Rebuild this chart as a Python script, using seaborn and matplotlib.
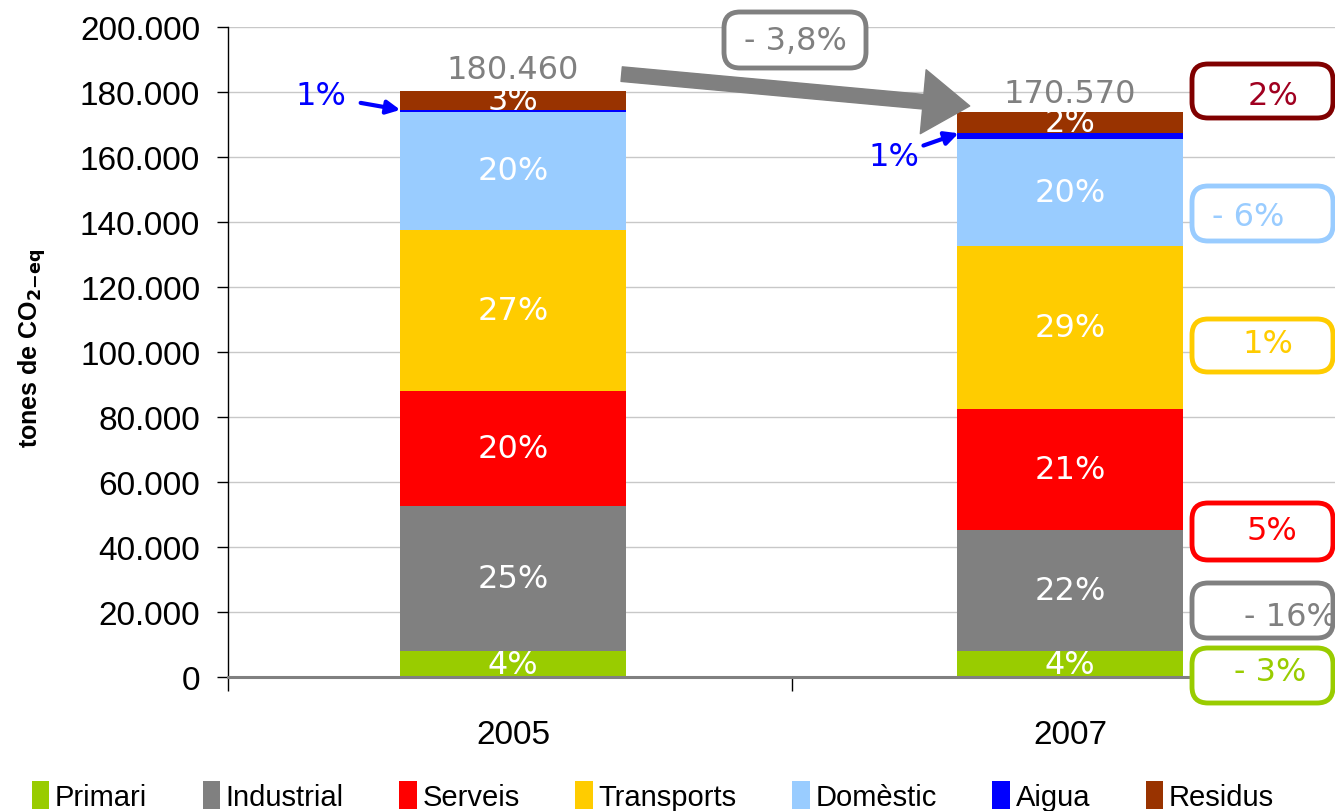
# Emissions by sector, 2005 vs 2007 (stacked bars)

import numpy as np
import pandas as pd
import matplotlib.pyplot as plt
import matplotlib.transforms as mtransforms
from matplotlib import font_manager
from matplotlib.patches import FancyBboxPatch, Patch
from matplotlib.ticker import FuncFormatter
import seaborn as sns

# Data
years = ["2005", "2007"]
sectors = ["Primari", "Industrial", "Serveis", "Transports", "Domèstic", "Aigua", "Residus"]
colors = ["#99CC00", "#808080", "#FF0000", "#FFCC00", "#99CCFF", "#0000FF", "#993300"]
values_2005 = [8000, 44700, 35400, 49500, 36300, 600, 5960]
values_2007 = [8000, 37200, 37300, 50200, 32700, 1900, 6400]
pct_2005 = ["4%", "25%", "20%", "27%", "20%", "", "3%"]
pct_2007 = ["4%", "22%", "21%", "29%", "20%", "", "2%"]
aigua_pct = ["1%", "1%"]
totals = ["180.460", "170.570"]
total_change = "- 3,8%"

# change 2005 -> 2007 per sector, with box colours
change_labels = ["2%", "- 6%", "1%", "5%", "- 16%", "- 3%"]
change_edge = ["#800000", "#99CCFF", "#FFCC00", "#FF0000", "#808080", "#99CC00"]
change_text = ["#A00020", "#99CCFF", "#FFCC00", "#FF0000", "#808080", "#99CC00"]

df = pd.DataFrame({
    "year": np.repeat(years, len(sectors)),
    "sector": sectors * 2,
    "value": values_2005 + values_2007,
})
df["cum"] = df.groupby("year")["value"].cumsum()
df["mid"] = df["cum"] - df["value"] / 2
df["pct"] = pct_2005 + pct_2007

sns.set_style("white")
names = {f.name for f in font_manager.fontManager.ttflist}
narrow = "Liberation Sans Narrow" if "Liberation Sans Narrow" in names else "Liberation Sans"
plt.rcParams["font.family"] = ["Liberation Sans", "DejaVu Sans"]
plt.rcParams["text.color"] = "black"

W, H = 1335, 812
fig = plt.figure(figsize=(W / 100, H / 100), dpi=100)
ax = fig.add_axes([228 / W, 1 - 678 / H, 1 - 228 / W, 650 / H])

# stacked bars: draw cumulative totals from the top down
for sector, color in reversed(list(zip(sectors, colors))):
    sub = df[df["sector"] == sector]
    sns.barplot(data=sub, x="year", y="cum", order=years, color=color,
                saturation=1, width=0.405, errorbar=None, linewidth=0,
                ax=ax, zorder=2)

ax.set_xlim(-0.512, 1.476)
ax.set_ylim(0, 200000)
ax.set_yticks(np.arange(0, 200001, 20000))
ax.yaxis.set_major_formatter(FuncFormatter(lambda v, p: f"{int(v):,}".replace(",", ".")))
ax.set_axisbelow(True)
ax.grid(axis="y", color="#C8C8C8", lw=1)
ax.grid(axis="x", visible=False)

for s in ["top", "right"]:
    ax.spines[s].set_visible(False)
ax.spines["left"].set_color("black")
ax.spines["left"].set_linewidth(1)
ax.spines["bottom"].set_color("#808080")
ax.spines["bottom"].set_linewidth(2.2)
ax.spines["bottom"].set_zorder(3)

ax.tick_params(axis="y", length=8, width=1, color="black", pad=12, labelsize=24,
               labelcolor="black", left=True)
ax.tick_params(axis="x", length=0, pad=30, labelcolor="black")
ax.set_xticks([-0.512, 0.5], minor=True)
ax.tick_params(axis="x", which="minor", length=10, width=1, color="black", bottom=True)
for lab in ax.get_xticklabels():
    lab.set_fontfamily(narrow)
    lab.set_fontsize(24)
ax.set_xlabel("")
ax.set_ylabel("")

fig.text(32 / W, 1 - 348 / H, r"tones de CO$_{\mathbf{2{-}eq}}$", rotation=90,
         fontsize=18, fontweight="bold", ha="center", va="center")

# percentage labels inside the segments
pos = {y: i for i, y in enumerate(years)}
for _, r in df.iterrows():
    if r["pct"]:
        ax.text(pos[r["year"]], r["mid"], r["pct"], color="white", fontsize=23,
                family="DejaVu Sans", ha="center", va="center", zorder=4)

# totals above bars
tops = df.groupby("year")["cum"].max()
ax.text(0, tops["2005"] + 6500, totals[0], color="#808080", fontsize=23,
        family="DejaVu Sans", ha="center", va="center", zorder=4)
ax.text(1, tops["2007"] + 5700, totals[1], color="#808080", fontsize=23,
        family="DejaVu Sans", ha="center", va="center", zorder=4)

# water (Aigua) arrows
aig = df[df["sector"] == "Aigua"].set_index("year")
ax.annotate(aigua_pct[0], xy=(-0.2025, aig.loc["2005", "cum"]),
            xytext=(-0.345, 178800), color="#0000FF", fontsize=23,
            family="DejaVu Sans", ha="center", va="center",
            arrowprops=dict(arrowstyle="-|>", color="#0000FF", lw=3,
                            mutation_scale=20, shrinkA=8, shrinkB=0))
ax.annotate(aigua_pct[1], xy=(0.80, aig.loc["2007", "cum"]),
            xytext=(0.683, 160300), color="#0000FF", fontsize=23,
            family="DejaVu Sans", ha="center", va="center",
            arrowprops=dict(arrowstyle="-|>", color="#0000FF", lw=3,
                            mutation_scale=20, shrinkA=1, shrinkB=0))

# big grey arrow between totals
ax.annotate("", xy=(0.82, 175700), xytext=(0.195, 185500),
            arrowprops=dict(arrowstyle="simple,head_length=2.4,head_width=3.3,tail_width=0.75",
                            color="#808080", mutation_scale=14, shrinkA=0, shrinkB=0),
            zorder=5)

# rounded callout boxes (pixel coordinates, top-left origin)
ident = mtransforms.IdentityTransform()


def callout(label, x0, y0, x1, y1, tx, ty, ec, tc):
    box = FancyBboxPatch((x0, H - y1), x1 - x0, y1 - y0,
                         boxstyle="round,pad=0,rounding_size=16",
                         fc="white", ec=ec, lw=3.5, transform=ident, zorder=6)
    fig.patches.append(box)
    fig.text(tx, H - ty, label, color=tc, fontsize=23, family="DejaVu Sans",
             ha="center", va="center", transform=ident, zorder=7)


callout(total_change, 724, 13, 866, 69, 795, 42, "#808080", "#808080")
box_y = [(65, 119, 97), (187, 242, 218), (320, 373, 345),
         (504, 561, 532), (584, 639, 618), (649, 704, 673)]
box_tx = [1273, 1248, 1268, 1272, 1290, 1270]
for lab, (y0, y1, ty), tx, ec, tc in zip(change_labels, box_y, box_tx, change_edge, change_text):
    callout(lab, 1192, y0, 1333, y1, tx, ty, ec, tc)

# legend
handles = [Patch(facecolor=c, edgecolor="none") for c in colors]
fig.legend(handles, sectors, ncol=7, loc="center", bbox_to_anchor=(0.489, 1 - 797 / H),
           frameon=False, handlelength=0.6, handleheight=1.1, handletextpad=0.2,
           columnspacing=1.9, prop={"family": narrow, "size": 21})

plt.savefig("out.png", dpi=100)
